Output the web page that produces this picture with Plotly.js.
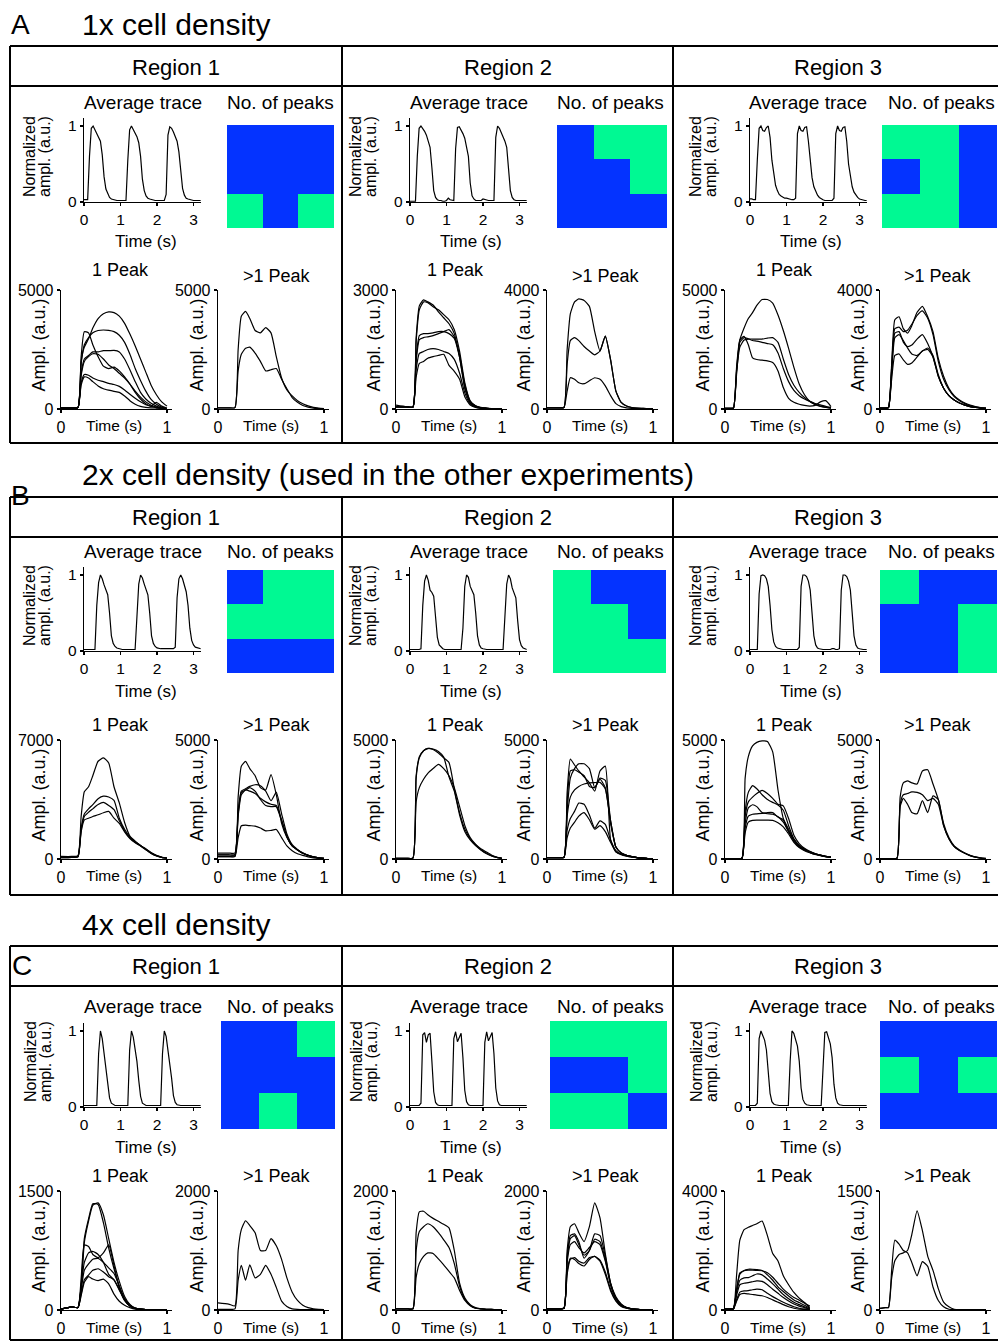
<!DOCTYPE html>
<html><head><meta charset="utf-8">
<script src="https://cdn.plot.ly/plotly-3.0.1.min.js"></script>
<style>html,body{margin:0;padding:0;background:#fff}#chart{width:998px;height:1341px}</style>
</head><body><div id="chart"></div>
<script>
// ---------------- DATA ----------------
const sectionLetters = ['A', 'B', 'C'];
const sectionTitles = ['1x cell density', '2x cell density (used in the other experiments)', '4x cell density'];
const regionNames = ['Region 1', 'Region 2', 'Region 3'];

// time axis of the average traces (s)
const tAvg = [0,0.05,0.1,0.15,0.2,0.25,0.3,0.35,0.4,0.45,0.5,0.55,0.6,0.65,0.7,0.75,0.8,0.85,0.9,0.95,
  1,1.05,1.1,1.15,1.2,1.25,1.3,1.35,1.4,1.45,1.5,1.55,1.6,1.65,1.7,1.75,1.8,1.85,1.9,1.95,
  2,2.05,2.1,2.15,2.2,2.25,2.3,2.35,2.4,2.45,2.5,2.55,2.6,2.65,2.7,2.75,2.8,2.85,2.9,2.95,
  3,3.05,3.1,3.15,3.2];

const avgA1 = [0.03,0.03,0.03,0.6,0.97,1.0,0.95,0.92,0.87,0.8,0.62,0.33,0.17,0.1,0.06,0.04,0.03,0.03,0.02,0.02,
  0.02,0.02,0.02,0.02,0.55,0.95,1.0,0.95,0.91,0.86,0.78,0.6,0.3,0.15,0.08,0.05,0.04,0.03,0.02,0.02,
  0.02,0.02,0.02,0.02,0.02,0.1,0.88,0.99,0.97,0.92,0.87,0.8,0.66,0.38,0.18,0.09,0.05,0.04,0.03,0.03,
  0.02,0.02,0.02,0.02,0.02];
const avgA2 = [0.01,0.01,0.01,0.01,0.6,0.97,1.0,0.97,0.93,0.88,0.8,0.72,0.45,0.15,0.06,0.03,0.02,0.02,0.01,0.01,
  0.02,0.05,0.03,0.02,0.02,0.7,0.98,0.99,0.95,0.9,0.84,0.74,0.6,0.25,0.08,0.04,0.02,0.02,0.02,0.02,
  0.04,0.03,0.02,0.02,0.02,0.02,0.02,0.85,1.0,0.97,0.92,0.87,0.8,0.72,0.45,0.15,0.06,0.03,0.02,0.02,
  0.02,0.02,0.02,0.02,0.02];
const avgA3 = [0.04,0.04,0.03,0.03,0.55,0.97,1.0,0.94,0.93,0.98,1.0,0.85,0.55,0.35,0.22,0.15,0.1,0.08,0.06,0.05,
  0.05,0.04,0.04,0.03,0.03,0.05,0.9,1.0,0.94,0.93,0.98,0.99,0.8,0.5,0.32,0.2,0.13,0.09,0.06,0.04,
  0.03,0.02,0.02,0.02,0.02,0.02,0.05,0.9,1.0,0.94,0.93,0.98,0.99,0.8,0.5,0.32,0.2,0.13,0.09,0.06,
  0.04,0.03,0.02,0.02,0.02];
const avgB1 = [0.02,0.02,0.02,0.02,0.02,0.02,0.02,0.6,0.9,1.0,0.95,0.87,0.8,0.74,0.5,0.2,0.1,0.06,0.04,0.03,
  0.02,0.02,0.02,0.02,0.02,0.02,0.02,0.02,0.02,0.45,0.88,1.0,0.96,0.88,0.8,0.74,0.5,0.2,0.1,0.06,
  0.04,0.03,0.03,0.03,0.03,0.03,0.03,0.03,0.03,0.03,0.05,0.7,0.95,1.0,0.95,0.87,0.78,0.6,0.3,0.14,
  0.08,0.05,0.04,0.03,0.03];
const avgB2 = [0.02,0.02,0.02,0.02,0.02,0.02,0.03,0.6,0.92,1.0,0.93,0.8,0.77,0.72,0.45,0.18,0.08,0.05,0.03,0.02,
  0.02,0.02,0.02,0.02,0.02,0.02,0.02,0.02,0.02,0.3,0.85,1.0,0.97,0.85,0.78,0.74,0.5,0.2,0.08,0.04,
  0.03,0.02,0.02,0.02,0.02,0.02,0.02,0.02,0.02,0.02,0.02,0.02,0.45,0.88,1.0,0.95,0.83,0.77,0.7,0.4,
  0.15,0.07,0.04,0.03,0.02];
const avgB3 = [0.02,0.02,0.02,0.02,0.02,0.75,0.99,1.0,0.99,0.95,0.85,0.6,0.28,0.12,0.06,0.04,0.03,0.02,0.02,0.02,
  0.02,0.02,0.02,0.02,0.02,0.02,0.02,0.05,0.85,1.0,1.0,0.98,0.92,0.8,0.5,0.2,0.08,0.04,0.03,0.02,
  0.02,0.02,0.02,0.02,0.02,0.03,0.03,0.02,0.02,0.03,0.8,1.0,1.0,0.98,0.92,0.8,0.5,0.2,0.08,0.04,
  0.03,0.02,0.02,0.02,0.02];
const avgC1 = [0.02,0.02,0.02,0.02,0.02,0.02,0.02,0.02,0.7,1.0,0.9,0.72,0.55,0.3,0.12,0.05,0.03,0.02,0.02,0.02,
  0.02,0.02,0.02,0.02,0.02,0.75,1.0,0.92,0.75,0.6,0.35,0.14,0.05,0.03,0.02,0.02,0.02,0.02,0.02,0.02,
  0.02,0.02,0.02,0.7,1.0,0.93,0.76,0.6,0.38,0.15,0.06,0.03,0.02,0.02,0.02,0.02,0.02,0.02,0.02,0.02,
  0.02,0.02,0.02,0.02,0.02];
const avgC2 = [0.02,0.02,0.02,0.02,0.02,0.02,0.05,0.95,0.98,0.85,0.95,0.97,0.6,0.2,0.06,0.03,0.02,0.02,0.02,0.02,
  0.02,0.02,0.02,0.02,0.9,0.99,0.86,0.93,0.97,0.65,0.22,0.07,0.03,0.02,0.02,0.02,0.02,0.02,0.02,0.02,
  0.02,0.85,0.99,0.87,0.93,0.98,0.7,0.25,0.08,0.03,0.02,0.02,0.02,0.02,0.02,0.02,0.02,0.02,0.02,0.02,
  0.02,0.02,0.02,0.02,0.02];
const avgC3 = [0.02,0.02,0.02,0.02,0.05,0.9,1.0,0.95,0.88,0.75,0.45,0.18,0.07,0.04,0.03,0.02,0.02,0.02,0.02,0.02,
  0.02,0.02,0.6,1.0,0.97,0.9,0.8,0.6,0.25,0.1,0.05,0.03,0.02,0.02,0.02,0.02,0.02,0.02,0.02,0.02,
  0.5,0.98,0.99,0.92,0.83,0.65,0.3,0.12,0.05,0.03,0.02,0.02,0.02,0.02,0.02,0.02,0.02,0.02,0.02,0.02,
  0.02,0.02,0.02,0.02,0.02];

// No. of peaks maps (rows top to bottom): 0 = 1 peak (blue), 1 = >1 peak (green)
const peaksA1 = [[0,0,0],[0,0,0],[1,0,1]];
const peaksA2 = [[0,1,1],[0,0,1],[0,0,0]];
const peaksA3 = [[1,1,0],[0,1,0],[1,1,0]];
const peaksB1 = [[0,1,1],[1,1,1],[0,0,0]];
const peaksB2 = [[1,0,0],[1,1,0],[1,1,1]];
const peaksB3 = [[1,0,0],[0,0,1],[0,0,1]];
const peaksC1 = [[0,0,1],[0,0,0],[0,1,0]];
const peaksC2 = [[1,1,1],[0,0,1],[1,1,0]];
const peaksC3 = [[0,0,0],[1,0,1],[0,0,0]];

// time axes of single-cell transients (s)
const tLate = [0,0.1,0.16,0.19,0.22,0.26,0.3,0.35,0.4,0.45,0.5,0.55,0.6,0.65,0.7,0.75,0.8,0.85,0.9,0.95,1.0];
const tEarly = [0,0.05,0.08,0.11,0.14,0.18,0.22,0.26,0.3,0.35,0.4,0.45,0.5,0.55,0.6,0.65,0.7,0.75,0.8,0.85,0.9,0.95,1.0];

// A (1x)
const oneA1 = [
  [50,50,60,2000,2600,2950,3400,3800,4000,4080,4050,3900,3600,3150,2650,2100,1550,1000,600,300,120],
  [50,50,60,1900,2700,3000,3200,3300,3320,3300,3250,3100,2800,2300,1700,1200,750,400,200,80,30],
  [50,50,60,2200,3250,3200,2700,2200,1800,1700,1760,1600,1350,1050,700,420,220,110,60,30,20],
  [50,50,60,1500,2100,2250,2400,2400,2450,2450,2460,2400,2100,1650,1150,700,420,240,120,50,20],
  [50,50,60,1400,2000,2200,2320,2300,2100,1850,1700,1500,1300,1050,750,500,300,160,80,40,20],
  [50,50,60,1100,1450,1420,1300,1210,1150,1080,1030,950,800,620,450,300,180,120,280,120,30],
  [50,50,60,1000,1350,1300,1150,970,850,790,740,700,550,350,200,110,70,50,40,30,20]];
const multiA1 = [
  [50,50,60,2500,3900,4100,3800,3300,3200,3420,3200,2200,1300,800,550,350,220,130,70,40,20],
  [50,50,60,1600,2300,2550,2600,2350,2000,1600,1650,1700,1250,850,480,280,150,80,40,20,10]];
const oneA2 = [
  [60,50,50,1800,2600,2750,2700,2620,2450,2300,2150,1900,1300,500,150,60,30,20,10,10,10],
  [100,60,50,1700,2500,2700,2680,2580,2500,2380,2250,2000,1450,650,200,80,40,20,10,10,10],
  [50,50,50,1300,1850,1900,1900,1920,1950,1950,1900,1780,1300,550,180,70,30,20,10,10,10],
  [50,50,50,1200,1750,1800,1820,1850,1900,1950,2000,1820,1350,600,200,80,30,20,10,10,10],
  [50,50,50,1000,1400,1450,1500,1520,1500,1450,1400,1250,900,400,130,50,20,10,10,10,10],
  [50,50,50,800,1150,1200,1280,1320,1350,1380,1100,950,750,300,100,40,20,10,10,10,10]];
const multiA2 = [
  [40,40,50,2000,3200,3600,3700,3650,3450,2600,1950,2450,1650,600,220,100,50,30,20,10,10],
  [40,40,50,1500,2300,2400,2300,2100,1950,1820,1950,2450,1650,600,220,100,50,30,20,10,10],
  [40,40,50,600,1050,1000,880,850,950,1050,1000,780,450,180,80,40,20,10,10,10,10]];
const oneA3 = [
  [30,30,40,1500,2900,3400,3800,4050,4350,4600,4600,4450,3950,3300,2550,1750,1050,600,320,180,110,70,40],
  [30,30,40,1800,2900,3050,2700,2150,2080,2050,2020,1950,1600,900,450,280,200,150,120,150,300,350,100],
  [30,30,40,1600,2600,2900,2940,2940,2940,2940,2980,3000,2800,2100,1450,1000,700,480,320,200,120,80,40],
  [30,30,40,1700,2800,3000,2950,2880,2850,2800,2750,2700,2350,1700,1150,780,560,420,320,230,170,110,60]];
const multiA3 = [
  [30,30,50,1500,3000,3100,2700,2550,2800,3250,3450,3100,2600,1700,1100,700,450,300,200,130,80,50,30],
  [30,30,50,1400,2700,2750,2600,2650,2850,3150,3300,3050,2500,1600,1000,650,420,280,180,110,70,40,20],
  [30,30,50,1300,2550,2600,2250,2100,2150,2350,2500,2200,1750,1100,700,450,300,200,130,80,50,30,20],
  [30,30,50,1200,2400,2500,2300,2050,1850,1800,1950,2050,1800,1150,700,450,300,200,130,80,50,30,20],
  [30,30,50,1000,1800,1850,1650,1500,1550,1750,1950,2000,1750,1100,700,450,300,200,130,80,50,30,20]];

// B (2x)
const oneB1 = [
  [150,150,200,2500,3950,4250,4900,5750,5950,5650,4250,3300,2150,1350,1050,800,600,380,220,120,60],
  [100,120,150,1800,2650,2950,3200,3550,3700,3650,3450,2400,1750,1300,1000,800,580,350,200,100,50],
  [80,100,130,1700,2500,2750,2950,3200,3330,3150,2900,2250,1650,1250,980,780,560,340,190,100,50],
  [80,100,130,1600,2300,2400,2500,2600,2720,2800,2400,2100,1600,1200,950,760,540,330,180,90,40]];
const multiB1 = [
  [100,100,110,2600,3900,4100,3800,3500,3000,2900,3550,2700,1500,900,550,380,240,150,90,50,30],
  [250,250,250,2000,2850,2950,3050,3120,3080,2850,2450,2800,1900,1050,600,400,260,160,90,50,30],
  [170,170,180,1800,2700,2900,2850,2750,2550,2400,2300,2250,1650,950,550,380,240,150,90,50,30],
  [170,170,180,1900,2800,2900,3000,2850,2500,2250,2200,2200,1600,950,550,380,240,150,90,50,30],
  [100,100,110,900,1400,1420,1400,1380,1300,1180,1200,1240,900,550,350,220,150,90,50,30,20]];
const oneB2 = [
  [30,30,40,3500,4300,4550,4640,4620,4520,4280,3450,2850,1850,1150,800,560,380,230,130,70,30],
  [30,30,40,3400,4250,4550,4650,4600,4450,4250,4050,2950,1950,1250,850,600,400,250,140,70,30],
  [30,30,40,2400,3000,3350,3600,3800,3980,3800,3500,3000,2200,1400,900,620,430,300,170,80,30]];
const multiB2 = [
  [60,60,70,2800,4200,3950,3700,3450,3200,2850,3700,3900,800,300,180,120,80,50,30,20,10],
  [60,60,70,2000,3400,3800,4000,4000,3800,3000,3400,3300,1600,500,250,150,100,60,40,20,10],
  [60,60,70,2400,3700,3750,3650,3500,3050,3000,3350,3000,1500,500,250,150,100,60,40,20,10],
  [60,60,70,1800,2600,2900,3050,3150,3200,3210,3220,2940,1600,500,250,150,100,60,40,20,10],
  [60,60,70,1200,1700,2000,2350,2300,1850,1300,1600,1450,800,350,200,150,100,60,40,20,10],
  [60,60,70,900,1300,1550,1800,1950,1650,1250,1400,1150,700,300,200,130,90,60,40,20,10]];
const oneB3 = [
  [20,20,30,3400,4300,4750,4900,4960,4940,4500,2900,1700,1150,820,580,420,300,220,160,110,80],
  [20,20,30,2000,2800,3080,2950,2700,2500,2380,2270,2050,1400,850,550,400,300,220,160,110,80],
  [20,20,30,1800,2400,2600,2750,2880,2750,2550,2300,2230,1700,1000,650,450,320,230,160,110,80],
  [20,20,30,1500,2150,2280,2200,1950,1900,1880,1780,1550,1150,750,500,380,280,200,150,100,70],
  [20,20,30,1300,1800,1880,1900,1920,1950,1950,1760,1650,1250,800,520,380,280,200,150,100,70],
  [20,20,30,1100,1550,1620,1630,1630,1630,1620,1520,1350,1050,700,480,350,260,190,140,100,70]];
const multiB3 = [
  [20,20,30,2600,3200,3280,3200,3150,3700,3750,3150,2500,1500,900,550,380,250,150,90,50,30],
  [20,20,30,2300,2700,2750,2820,2800,2700,2450,2550,2300,1400,850,520,360,240,140,80,40,20],
  [20,20,30,2200,2550,2300,1950,1900,2450,1950,2650,2500,1400,850,520,360,240,140,80,40,20]];

// C (4x)
const oneC1 = [
  [10,40,30,300,900,1150,1340,1330,1100,780,520,300,140,60,20,10,5,5,5,5,5],
  [10,40,30,280,850,1120,1320,1350,1200,900,600,360,170,70,25,10,5,5,5,5,5],
  [10,40,30,400,820,800,700,660,720,820,560,280,120,50,20,10,5,5,5,5,5],
  [10,40,30,300,600,720,740,700,600,450,380,250,120,50,20,10,5,5,5,5,5],
  [10,40,30,250,500,580,640,650,600,530,460,300,140,60,20,10,5,5,5,5,5],
  [10,40,30,200,380,440,500,520,480,420,380,260,130,50,20,10,5,5,5,5,5],
  [10,40,30,180,350,420,390,370,390,330,200,110,60,30,10,5,5,5,5,5,5]];
const multiC1 = [
  [120,100,70,1000,1350,1500,1420,1300,1000,1000,1200,1080,850,540,300,160,80,40,20,10,5],
  [10,10,20,500,750,500,760,540,600,750,600,380,150,60,20,10,5,5,5,5,5]];
const oneC2 = [
  [20,20,20,1300,1650,1660,1600,1540,1490,1440,1380,1000,450,200,90,40,20,10,10,5,5],
  [20,20,20,1000,1320,1400,1450,1400,1300,1180,1050,780,400,180,80,30,20,10,10,5,5],
  [20,20,20,550,780,900,960,950,860,760,650,540,330,160,70,30,20,10,10,5,5]];
const multiC2 = [
  [20,20,30,1000,1400,1450,1300,1150,1400,1800,1550,950,450,220,100,40,20,10,5,5,5],
  [20,20,30,900,1250,1280,1150,870,1000,1280,1250,900,450,200,90,40,20,10,5,5,5],
  [20,20,30,850,1200,1250,1100,920,1000,1190,1150,850,430,200,90,40,20,10,5,5,5],
  [20,20,30,800,1100,1150,1050,960,1050,1150,1100,820,420,190,80,40,20,10,5,5,5],
  [20,20,30,650,870,850,780,740,850,900,840,640,350,160,70,30,15,10,5,5,5],
  [20,20,30,600,850,880,820,790,880,900,820,600,320,150,60,30,15,10,5,5,5]];
const oneC3 = [
  [30,30,40,1200,2350,2700,2780,2840,2900,2990,2500,1900,1650,1150,850,590,400,250,80,null,null,null,null],
  [30,30,40,700,1250,1320,1340,1340,1330,1320,1250,1100,900,700,550,420,330,230,130,null,null,null,null],
  [30,30,40,700,1200,1330,1370,1370,1360,1330,1180,1000,780,620,470,340,250,160,60,null,null,null,null],
  [30,30,40,600,1000,1080,1090,1150,1210,1180,1040,880,700,520,380,260,180,110,40,null,null,null,null],
  [30,30,40,500,850,900,920,950,980,960,850,700,560,420,300,200,130,80,30,null,null,null,null],
  [30,30,40,350,600,640,650,680,700,680,560,450,350,260,180,110,60,30,20,null,null,null,null],
  [30,30,40,300,520,560,540,520,500,480,420,340,260,180,110,60,30,20,10,null,null,null,null]];
const multiC3 = [
  [20,30,30,500,880,830,750,720,600,430,610,550,290,120,40,10,5,5,5,5,5,5,5],
  [20,30,30,400,620,700,720,750,950,1250,1000,680,500,270,100,40,10,5,5,5,5,5,5]];

const yMaxOne = [[5000,3000,5000],[7000,5000,5000],[1500,2000,4000]];
const yMaxMulti = [[5000,4000,4000],[5000,5000,5000],[2000,2000,1500]];

// ---------------- BUILD ----------------
const avgAll = [[avgA1,avgA2,avgA3],[avgB1,avgB2,avgB3],[avgC1,avgC2,avgC3]];
const heatAll = [[peaksA1,peaksA2,peaksA3],[peaksB1,peaksB2,peaksB3],[peaksC1,peaksC2,peaksC3]];
const oneAll = [[oneA1,oneA2,oneA3],[oneB1,oneB2,oneB3],[oneC1,oneC2,oneC3]];
const multiAll = [[multiA1,multiA2,multiA3],[multiB1,multiB2,multiB3],[multiC1,multiC2,multiC3]];
const tOne = [[tLate,tLate,tEarly],[tLate,tLate,tLate],[tLate,tLate,tEarly]];
const tMulti = [[tLate,tLate,tEarly],[tLate,tLate,tLate],[tLate,tLate,tEarly]];

const FONT = 'Liberation Sans, Arial, Helvetica, sans-serif';
const W = 998, H = 1341;
const X = p => p / W, Y = p => 1 - p / H;
const BLUE = '#0433ff', GREEN = '#00f993';

// section geometry (pixels)
const geo = [
  {titleY:24, letterX:20, letterY:24, top:46, head:86, bottom:443, regionY:67, subY:102, avgBot:202,
   heat:[[227,334],[557,667],[882,997]], heatTop:125, heatBot:228, timeY:242, pkTitleY:[270,276], pkTop:290, pkBot:409, pkTickY:424},
  {titleY:474, letterX:20, letterY:495, top:497, head:537, bottom:895, regionY:517, subY:551, avgBot:651,
   heat:[[227,334],[553,666],[880,997]], heatTop:570, heatBot:673, timeY:691, pkTitleY:[725,725], pkTop:740, pkBot:859, pkTickY:874},
  {titleY:924, letterX:22, letterY:965, top:946, head:986, bottom:1340, regionY:966, subY:1006, avgBot:1107,
   heat:[[221,335],[550,667],[880,997]], heatTop:1021, heatBot:1129, timeY:1147, pkTitleY:[1176,1176], pkTop:1191, pkBot:1310, pkTickY:1326}
];
const regionCenter = [176,508,838];
const avgAxisX = [84,410,750];
const avgTitleX = [143,469,808];
const heatTitleX = [280,610,941];
const avgTimeX = [146,471,811];
const normX = [30,356,696];
const oneAxisX = [61,396,725];
const multiAxisX = [218,547,880];
const oneTitleX = [120,455,784];
const multiTitleX = [277,606,938];
const oneLabelX = [38,373,702];
const multiLabelX = [196,523,857];

const traces = [], annotations = [], shapes = [];
const layout = {width:W, height:H, margin:{l:0,r:0,t:0,b:0}, paper_bgcolor:'#fff', plot_bgcolor:'rgba(0,0,0,0)',
  showlegend:false, font:{family:FONT, color:'#000'}, annotations, shapes, hovermode:false};
let n = 0;
function newAxes(){ n++; const s = n === 1 ? '' : String(n); return {xa:'xaxis'+s, ya:'yaxis'+s, x:'x'+s, y:'y'+s}; }
function axisBase(size){ return {showgrid:false, zeroline:false, showline:true, linecolor:'#000', linewidth:1.3,
  ticks:'outside', ticklen:3, tickwidth:1.3, tickcolor:'#000', tickfont:{family:FONT, size:size, color:'#000'}, fixedrange:true}; }
function txt(text, xp, yp, size, extra){
  annotations.push(Object.assign({text:text, x:X(xp), y:Y(yp), xref:'paper', yref:'paper', showarrow:false,
    xanchor:'center', yanchor:'middle', font:{family:FONT, size:size, color:'#000'}}, extra || {}));
}
function hline(y, x0, x1){ shapes.push({type:'line', xref:'paper', yref:'paper', x0:X(x0), x1:X(x1), y0:Y(y), y1:Y(y), line:{color:'#000', width:2}}); }
function vline(x, y0, y1){ shapes.push({type:'line', xref:'paper', yref:'paper', x0:X(x), x1:X(x), y0:Y(y0), y1:Y(y1), line:{color:'#000', width:2}}); }

function linePanel(x0, x1, ytop, ybot, xr, yr, xt, yt, t, curves, tickSize, shape){
  const a = newAxes();
  layout[a.xa] = Object.assign(axisBase(tickSize), {domain:[X(x0), X(x1)], range:xr, tickvals:xt, ticktext:xt.map(String), anchor:a.y});
  layout[a.ya] = Object.assign(axisBase(tickSize), {domain:[Y(ybot), Y(ytop)], range:yr, tickvals:yt, ticktext:yt.map(String), anchor:a.x});
  curves.forEach(c => traces.push({type:'scatter', mode:'lines', x:t, y:c, xaxis:a.x, yaxis:a.y,
    line:{color:'#000', width:1.2, shape:shape, smoothing:0.5}, hoverinfo:'skip', connectgaps:false}));
  return a;
}

for (let s = 0; s < 3; s++) {
  const g = geo[s];
  txt(sectionLetters[s], g.letterX, g.letterY, 28);
  txt(sectionTitles[s], 80, g.titleY, 30, {xanchor:'left'});
  hline(g.top, 10, 998); hline(g.head, 10, 998); hline(g.bottom, 10, 998);
  [10, 342, 673].forEach(x => vline(x, g.top, g.bottom));
  for (let r = 0; r < 3; r++) {
    txt(regionNames[r], regionCenter[r], g.regionY, 22);
    // average trace
    txt('Average trace', avgTitleX[r], g.subY, 19);
    txt('No. of peaks', heatTitleX[r], g.subY, 19);
    const ax0 = avgAxisX[r];
    linePanel(ax0, ax0 + 3.2 * 36.5, g.avgBot - 76 * 1.1, g.avgBot, [0, 3.2], [0, 1.1], [0,1,2,3], [0,1], tAvg, [avgAll[s][r]], 15.5, 'linear');
    txt('Time (s)', avgTimeX[r], g.timeY, 17);
    txt('Normalized', normX[r], g.avgBot - 45, 16, {textangle:-90});
    txt('ampl. (a.u.)', normX[r] + 15, g.avgBot - 45, 16, {textangle:-90});
    // heat map
    const h = newAxes();
    const hx = g.heat[r];
    layout[h.xa] = {domain:[X(hx[0]), X(hx[1])], range:[-0.5, 2.5], visible:false, anchor:h.y, fixedrange:true};
    layout[h.ya] = {domain:[Y(g.heatBot), Y(g.heatTop)], range:[2.5, -0.5], visible:false, anchor:h.x, fixedrange:true};
    traces.push({type:'heatmap', z:heatAll[s][r], x:[0,1,2], y:[0,1,2], zmin:0, zmax:1, showscale:false,
      colorscale:[[0, BLUE], [0.5, BLUE], [0.5, GREEN], [1, GREEN]], xaxis:h.x, yaxis:h.y, hoverinfo:'skip'});
    // 1 peak
    const o0 = oneAxisX[r];
    const aOne = linePanel(o0, o0 + 1.05 * 106, g.pkTop, g.pkBot, [0, 1.05], [0, yMaxOne[s][r]], [0,1], [0, yMaxOne[s][r]],
      tOne[s][r], oneAll[s][r], 16, 'spline');
    txt('1 Peak', oneTitleX[r], g.pkTitleY[0], 18);
    txt('Ampl. (a.u.)', oneLabelX[r], (g.pkTop + g.pkBot) / 2 - 4, 18, {textangle:-90});
    annotations.push({text:'Time (s)', x:0.5, xref:aOne.x, y:Y(g.pkTickY + 1), yref:'paper', showarrow:false,
      xanchor:'center', yanchor:'middle', font:{family:FONT, size:15.5, color:'#000'}});
    // >1 peak
    const m0 = multiAxisX[r];
    const aMul = linePanel(m0, m0 + 1.05 * 106, g.pkTop, g.pkBot, [0, 1.05], [0, yMaxMulti[s][r]], [0,1], [0, yMaxMulti[s][r]],
      tMulti[s][r], multiAll[s][r], 16, 'spline');
    txt('>1 Peak', multiTitleX[r], g.pkTitleY[1], 18);
    txt('Ampl. (a.u.)', multiLabelX[r], (g.pkTop + g.pkBot) / 2 - 4, 18, {textangle:-90});
    annotations.push({text:'Time (s)', x:0.5, xref:aMul.x, y:Y(g.pkTickY + 1), yref:'paper', showarrow:false,
      xanchor:'center', yanchor:'middle', font:{family:FONT, size:15.5, color:'#000'}});
  }
}

Plotly.newPlot('chart', traces, layout, {staticPlot:true, displayModeBar:false});
</script></body></html>
